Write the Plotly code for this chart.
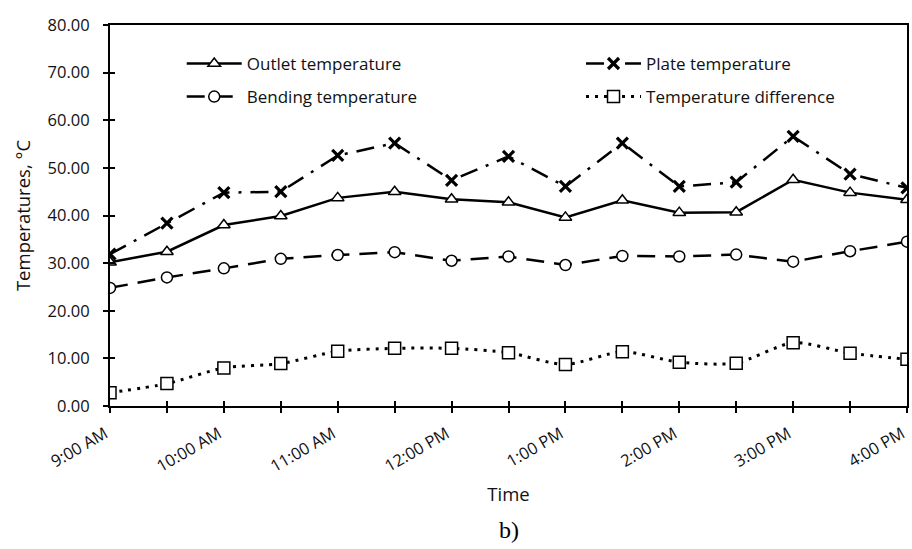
import plotly.graph_objects as go

# Half-hourly readings, 9:00 AM to 4:00 PM
times = ["9:00 AM", "9:30 AM", "10:00 AM", "10:30 AM", "11:00 AM", "11:30 AM",
         "12:00 PM", "12:30 PM", "1:00 PM", "1:30 PM", "2:00 PM", "2:30 PM",
         "3:00 PM", "3:30 PM", "4:00 PM"]
hour_labels = ["9:00 AM", "", "10:00 AM", "", "11:00 AM", "", "12:00 PM", "",
               "1:00 PM", "", "2:00 PM", "", "3:00 PM", "", "4:00 PM"]

outlet = [30.2, 32.4, 38.0, 39.9, 43.7, 45.0, 43.4, 42.8, 39.6, 43.2, 40.6, 40.7, 47.5, 44.8, 43.3]
plate = [31.9, 38.4, 44.8, 45.0, 52.6, 55.2, 47.4, 52.4, 46.1, 55.2, 46.1, 47.0, 56.6, 48.7, 45.8]
bending = [24.8, 27.0, 28.9, 30.9, 31.7, 32.3, 30.5, 31.4, 29.6, 31.5, 31.4, 31.8, 30.3, 32.5, 34.5]
difference = [2.8, 4.7, 8.0, 8.9, 11.5, 12.1, 12.1, 11.2, 8.7, 11.4, 9.2, 9.0, 13.3, 11.1, 9.8]

FONT = "Open Sans"
BLACK = "#000000"
TEXT = "#111111"

fig = go.Figure()

fig.add_trace(go.Scatter(
    x=times, y=outlet, name="Outlet temperature", mode="lines+markers",
    line=dict(color=BLACK, width=2.5),
    marker=dict(symbol="triangle-up", size=11, color="white", line=dict(color=BLACK, width=1.5)),
    legend="legend", legendgroup="a"))

fig.add_trace(go.Scatter(
    x=times, y=bending, name="Bending temperature", mode="lines+markers",
    line=dict(color=BLACK, width=2.5, dash="18px,10px"),
    marker=dict(symbol="circle", size=11, color="white", line=dict(color=BLACK, width=1.5)),
    legend="legend", legendgroup="b"))

fig.add_trace(go.Scatter(
    x=times, y=plate, name="Plate temperature", mode="lines+markers",
    line=dict(color=BLACK, width=2.5, dash="18px,9px,3px,9px"),
    marker=dict(symbol="x-thin", size=11, color=BLACK, line=dict(color=BLACK, width=3.2)),
    legend="legend2", legendgroup="c"))

fig.add_trace(go.Scatter(
    x=times, y=difference, name="Temperature difference", mode="lines+markers",
    line=dict(color=BLACK, width=3, dash="3px,6px", shape="spline", smoothing=0.7),
    marker=dict(symbol="square", size=12, color="white", line=dict(color=BLACK, width=1.5)),
    legend="legend2", legendgroup="d"))

axis_font = dict(family=FONT, size=16.5, color=TEXT)

legend_common = dict(
    font=dict(family=FONT, size=17, color=TEXT),
    bgcolor="rgba(0,0,0,0)", itemwidth=55, tracegroupgap=8,
    xref="paper", yref="paper", xanchor="left", yanchor="top",
    itemclick=False, itemdoubleclick=False,
)

fig.update_layout(
    width=912, height=549,
    margin=dict(l=110, r=5, t=25, b=143, autoexpand=False),
    paper_bgcolor="white", plot_bgcolor="white",
    font=dict(family=FONT, color=TEXT),
    showlegend=True,
    legend=dict(x=0.09, y=0.945, **legend_common),
    legend2=dict(x=0.591, y=0.945, **legend_common),
    xaxis=dict(
        type="category", range=[0, 14],
        tickmode="array", tickvals=times, ticktext=hour_labels,
        tickangle=-30, tickfont=axis_font,
        ticklabelshift=-5, ticklabelstandoff=5,
        ticks="outside", ticklen=5, tickwidth=1.5, tickcolor=BLACK,
        showline=True, linecolor=BLACK, linewidth=2, mirror=True,
        showgrid=False, zeroline=False,
        title=dict(text="Time", font=dict(family=FONT, size=18.5, color=TEXT), standoff=12),
    ),
    xaxis2=dict(
        type="category", range=[0, 14], overlaying="x", matches="x",
        tickmode="array", tickvals=times, ticktext=[""] * len(times),
        ticks="inside", ticklen=5, tickwidth=1.5, tickcolor=BLACK,
        showline=False, showgrid=False, zeroline=False, showticklabels=False,
    ),
    yaxis=dict(
        range=[0, 80], dtick=10, tickformat=".2f", tickfont=axis_font,
        ticks="outside", ticklen=5, tickwidth=1.5, tickcolor=BLACK,
        ticklabelstandoff=10,
        showline=True, linecolor=BLACK, linewidth=2, mirror=True,
        showgrid=False, zeroline=False,
        title=dict(text="Temperatures, °C", font=dict(family=FONT, size=18.5, color=TEXT), standoff=12),
    ),
    yaxis2=dict(
        range=[0, 80], dtick=10, overlaying="y",
        ticks="inside", ticklen=5, tickwidth=1.5, tickcolor=BLACK,
        showline=False, showgrid=False, zeroline=False, showticklabels=False,
    ),
    annotations=[dict(
        text="b)", xref="paper", yref="paper", x=0.5, y=-0.325,
        xanchor="center", yanchor="middle", showarrow=False,
        font=dict(family="Liberation Serif", size=24, color=BLACK),
    )],
)

# invisible trace so the inside tick overlay axes are drawn
fig.add_trace(go.Scatter(x=[times[0]], y=[0], xaxis="x2", yaxis="y2",
                         mode="markers", marker=dict(opacity=0),
                         showlegend=False, hoverinfo="skip"))

fig.write_html("out.html")
